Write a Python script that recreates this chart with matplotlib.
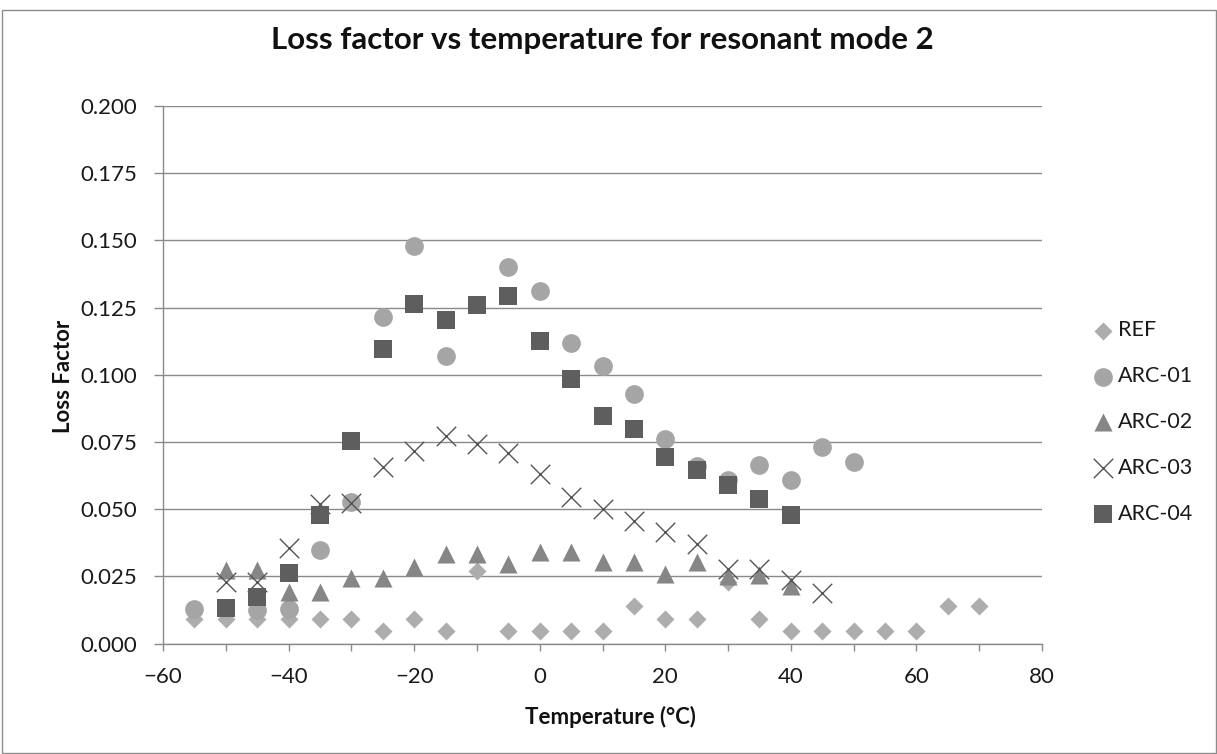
import matplotlib
matplotlib.use("Agg")
import matplotlib.pyplot as plt
from matplotlib.patches import Rectangle

plt.rcParams['font.family'] = ['Lato', 'DejaVu Sans']

# ---- data ----
ref_t = [-55, -50, -45, -40, -35, -30, -25, -20, -15, -10, -5, 0, 5, 10, 15, 20, 25, 30, 35, 40, 45, 50, 55, 60, 65, 70]
ref_v = [0.009, 0.009, 0.009, 0.009, 0.009, 0.009, 0.0045, 0.009, 0.0045, 0.027, 0.0045, 0.0045, 0.0045, 0.0045,
         0.014, 0.009, 0.009, 0.023, 0.009, 0.0045, 0.0045, 0.0045, 0.0045, 0.0045, 0.014, 0.014]

arc01_t = [-55, -45, -40, -35, -30, -25, -20, -15, -5, 0, 5, 10, 15, 20, 25, 30, 35, 40, 45, 50]
arc01_v = [0.013, 0.0125, 0.013, 0.0347, 0.0527, 0.1214, 0.148, 0.107, 0.1402, 0.131, 0.112, 0.1032, 0.0929,
           0.0762, 0.066, 0.061, 0.0666, 0.0607, 0.0731, 0.0675]

arc02_t = [-50, -45, -40, -35, -30, -25, -20, -15, -10, -5, 0, 5, 10, 15, 20, 25, 30, 35, 40]
arc02_v = [0.0273, 0.0273, 0.0192, 0.0192, 0.0243, 0.0243, 0.0285, 0.0332, 0.0332, 0.0296, 0.034, 0.0342,
           0.0302, 0.0302, 0.0259, 0.0302, 0.025, 0.0255, 0.0215]

arc03_t = [-50, -45, -40, -35, -30, -25, -20, -15, -10, -5, 0, 5, 10, 15, 20, 25, 30, 35, 40, 45]
arc03_v = [0.023, 0.023, 0.0356, 0.0518, 0.0523, 0.0657, 0.0716, 0.0771, 0.0744, 0.0709, 0.0632, 0.0545,
           0.0502, 0.0456, 0.0415, 0.037, 0.0279, 0.0279, 0.0236, 0.0189]

arc04_t = [-50, -45, -40, -35, -30, -25, -20, -15, -10, -5, 0, 5, 10, 15, 20, 25, 30, 35, 40]
arc04_v = [0.0131, 0.0172, 0.0261, 0.0477, 0.0753, 0.1096, 0.1264, 0.1204, 0.126, 0.1292, 0.1125, 0.0985,
           0.0846, 0.080, 0.0694, 0.0644, 0.0589, 0.0536, 0.0477]

x_ticks = [-60, -40, -20, 0, 20, 40, 60, 80]
y_ticks = [0.000, 0.025, 0.050, 0.075, 0.100, 0.125, 0.150, 0.175, 0.200]

W, H = 1217, 754
fig = plt.figure(figsize=(W / 100, H / 100), dpi=100)
fig.patch.set_facecolor('white')

# chart border
fig.patches.append(Rectangle((1.5 / W, 1.5 / H), (1215.5 - 1.5) / W, (744 - 1.5) / H, transform=fig.transFigure,
                             fill=False, edgecolor='#8c8c8c', linewidth=1.0))

ax = fig.add_axes([163 / W, (H - 643.5) / H, (1042 - 163) / W, (643.5 - 106) / H])

grid_c = '#8a8a8a'
ax.scatter(ref_t, ref_v, marker='D', s=9.2 ** 2, color='#adadad', linewidths=0, zorder=3, label='REF')
ax.scatter(arc01_t, arc01_v, marker='o', s=13.5 ** 2, color='#a5a5a5', linewidths=0, zorder=4, label='ARC-01')
ax.scatter(arc02_t, arc02_v, marker='^', s=13.0 ** 2, color='#868686', linewidths=0, zorder=5, label='ARC-02')
ax.scatter(arc03_t, arc03_v, marker='x', s=14.0 ** 2, color='#555555', linewidths=1.0, zorder=6, label='ARC-03')
ax.scatter(arc04_t, arc04_v, marker='s', s=13.5 ** 2, color='#5e5e5e', linewidths=0, zorder=7, label='ARC-04')

ax.set_xlim(-60, 80)
ax.set_ylim(0, 0.2)
ax.set_xticks(x_ticks)
ax.set_xticks(list(range(-50, 80, 20)), minor=True)
ax.set_yticks(y_ticks)
ax.set_yticklabels([f"{v:.3f}" for v in y_ticks])

ax.grid(axis='y', color=grid_c, linewidth=1.0, zorder=0)
ax.set_axisbelow(True)
for s in ['top', 'right']:
    ax.spines[s].set_visible(False)
for s in ['left', 'bottom']:
    ax.spines[s].set_color(grid_c)
    ax.spines[s].set_linewidth(1.0)

ax.tick_params(axis='y', direction='out', length=6.5, width=1.0, color=grid_c, pad=12, labelsize=16,
               labelcolor='#1a1a1a')
ax.tick_params(axis='x', which='both', direction='out', length=5, width=1.0, color=grid_c, pad=12,
               labelsize=16, labelcolor='#1a1a1a')

fig.text(602 / W, 1 - 40 / H, 'Loss factor vs temperature for resonant mode 2', ha='center', va='center',
         fontsize=22.5, fontweight='bold', color='#111111')
fig.text(610 / W, 1 - 717 / H, 'Temperature (°C)', ha='center', va='center', fontsize=16,
         fontweight='bold', color='#111111')
fig.text(63 / W, 1 - 376 / H, 'Loss Factor', ha='center', va='center', rotation=90, fontsize=16,
         fontweight='bold', color='#111111')

leg = fig.legend(loc='center left', bbox_to_anchor=(1092 / W, 1 - 422 / H), frameon=False, fontsize=15.5,
                 handlelength=1.0, handletextpad=0.2, labelspacing=1.2, borderpad=0, borderaxespad=0,
                 scatterpoints=1)
for t in leg.get_texts():
    t.set_color('#1a1a1a')

fig.savefig('out.png', dpi=100, facecolor='white')
